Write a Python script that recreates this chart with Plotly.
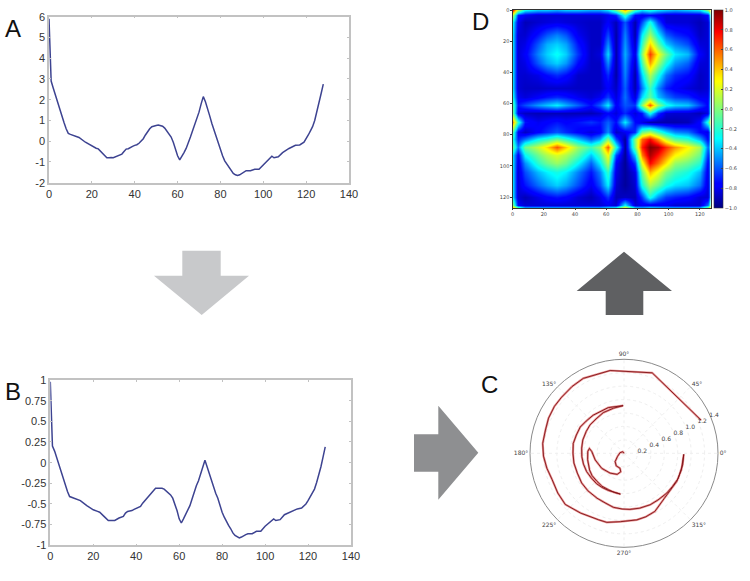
import plotly.graph_objects as go

# ---------- data ----------
series_x = [0,.5,1,2,3,4,5,6,7,8,9,10,11,12,14,17,20,22,23,25,26,27,28,29,30,32,33,34,35,36,37,38,39,40,41,42,43,44,45,46,47,48,49,50,51,52,53,54,55,56,57,58,59,60,61,62,63,64,65,66,67,68,69,70,71,72,73,74,75,76,77,78,79,80,81,82,83,84,85,86,87,88,89,90,91,92,94,96,98,100,102,104,105,107,109,112,115,117,119,120,121,122,123,124,125,126,127,128]
series_a = [5.9,4.2,2.9,2.55,2.2,1.9,1.55,1.2,.9,.6,.38,.33,.3,.27,.18,-.05,-.25,-.34,-.37,-.6,-.72,-.8,-.8,-.78,-.8,-.7,-.68,-.62,-.5,-.38,-.36,-.32,-.25,-.2,-.17,-.1,.02,.12,.3,.47,.6,.7,.75,.76,.78,.76,.72,.63,.5,.38,.2,-.05,-.4,-.7,-.9,-.75,-.55,-.35,-.1,.2,.5,.78,1.05,1.4,1.8,2.15,1.9,1.6,1.22,.85,.52,.2,-.1,-.4,-.7,-.95,-1.1,-1.25,-1.42,-1.55,-1.62,-1.65,-1.62,-1.55,-1.47,-1.42,-1.42,-1.35,-1.35,-1.15,-.9,-.72,-.8,-.75,-.55,-.35,-.2,-.18,-.05,.1,.3,.5,.7,1.0,1.4,1.85,2.3,2.75]
series_b = [.98,.55,.2,.14,.06,-.02,-.11,-.2,-.28,-.35,-.41,-.42,-.43,-.44,-.46,-.52,-.57,-.59,-.6,-.65,-.68,-.7,-.7,-.7,-.7,-.67,-.66,-.65,-.61,-.59,-.585,-.58,-.565,-.55,-.54,-.53,-.49,-.46,-.43,-.39,-.36,-.33,-.31,-.31,-.31,-.31,-.32,-.34,-.36,-.39,-.43,-.5,-.58,-.68,-.73,-.68,-.63,-.58,-.52,-.44,-.35,-.28,-.22,-.14,-.05,.03,-.05,-.13,-.21,-.3,-.37,-.43,-.52,-.6,-.66,-.72,-.76,-.8,-.85,-.88,-.9,-.91,-.9,-.88,-.87,-.86,-.86,-.83,-.83,-.77,-.72,-.68,-.7,-.69,-.63,-.59,-.56,-.55,-.5,-.46,-.41,-.37,-.32,-.24,-.15,-.05,.07,.19]
if not (len(series_x) == len(series_a) == len(series_b)):
    raise ValueError((len(series_x), len(series_a), len(series_b)))

x_ticks = [0,20,40,60,80,100,120,140]
a_ticks = [-2,-1,0,1,2,3,4,5,6]
a_labels = ["-2","-1","0","1","2","3","4","5","6"]
b_ticks = [-1,-0.75,-0.5,-0.25,0,0.25,0.5,0.75,1]
b_labels = ["-1","-0.75","-0.5","-0.25","0","0.25","0.5","0.75","1"]

polar_r = [0,.03,.06,.11,.18,.22,.23,.28,.33,.36,.40,.44,.48,.52,.54,.55,.57,.58,.58,.59,.59,.60,.61,.60,.605,.61,.61,.62,.625,.63,.635,.645,.65,.66,.66,.68,.69,.71,.72,.73,.74,.76,.76,.77,.76,.76,.755,.77,.775,.78,.79,.82,.83,.84,.85,.86,.86,.87,.875,.89,.89,.89,.89,.89,.90,.98,1.0,1.01,1.02,1.06,1.06,1.10,1.16,1.15,1.14,1.17,1.20,1.22,1.22,1.24,1.25,1.25,1.26,1.27,1.25,1.27,1.25]
polar_theta = [0,129,171,207,223,238,255,260,252,235,214,193,177,172,177,190,206,215,226,236,247,256,265,247,237,228,217,206,195,184.5,173,162,150,140,129,117,103,91,109,129,139.6,149,159,169,180,191,203,215,226,239,249,259,268,276,286,297,306,317,325.6,335,349,359,344,332,312,298,289,281,267,256,249,234,221,211,200,191,182,173,163.5,155,146,138,128,118.5,99.5,70.7,23.2]
if len(polar_r) != len(polar_theta):
    raise ValueError((len(polar_r), len(polar_theta)))
polar_r_ticks = [0.2,0.4,0.6,0.8,1.0,1.2,1.4]
polar_angle_ticks = [0,45,90,135,180,225,270,315]
polar_angle_labels = ["0°","45°","90°","135°","180°","225°","270°","315°"]

heat_grid = [0,3,8,16,22,28,34,42,50,56,61,66,72,78,83,88,93,98,104,112,120,125,127]
heat_z = [
[.75,.1,-.3,-.4,-.4,-.45,-.4,-.4,-.45,-.45,-.35,-.05,.45,-.15,-.35,-.25,-.35,-.4,-.45,-.4,-.35,0,.4],
[.1,-.7,-.8,-.85,-.85,-.85,-.85,-.85,-.85,-.85,-.8,-.7,-.2,-.75,-.8,-.75,-.8,-.85,-.85,-.85,-.85,-.75,-.1],
[-.3,-.8,-.9,-.86,-.84,-.82,-.84,-.86,-.88,-.88,-.78,-.9,-.6,-.92,-.62,-.25,-.62,-.84,-.85,-.85,-.9,-.85,-.35],
[-.35,-.85,-.86,-.72,-.6,-.52,-.6,-.8,-.88,-.88,-.62,-.93,-.52,-.92,-.32,.08,-.3,-.58,-.68,-.74,-.88,-.85,-.35],
[-.35,-.85,-.82,-.6,-.44,-.38,-.46,-.72,-.88,-.88,-.5,-.93,-.48,-.88,-.18,.38,-.05,-.38,-.52,-.62,-.84,-.85,-.35],
[-.35,-.85,-.78,-.52,-.38,-.28,-.38,-.66,-.88,-.84,-.36,-.93,-.44,-.82,0,.68,.28,-.05,-.33,-.42,-.78,-.85,-.35],
[-.35,-.85,-.82,-.6,-.46,-.38,-.48,-.74,-.88,-.88,-.5,-.93,-.48,-.88,-.15,.48,.1,-.24,-.48,-.58,-.84,-.85,-.35],
[-.35,-.85,-.86,-.82,-.74,-.68,-.74,-.87,-.88,-.88,-.68,-.93,-.52,-.93,-.38,.1,-.24,-.54,-.68,-.74,-.88,-.85,-.35],
[-.35,-.85,-.88,-.88,-.87,-.87,-.87,-.88,-.88,-.88,-.78,-.88,-.58,-.92,-.54,-.15,-.5,-.7,-.78,-.84,-.88,-.85,-.35],
[-.28,-.8,-.84,-.78,-.72,-.68,-.72,-.8,-.85,-.8,-.64,-.84,-.55,-.84,-.36,-.08,-.4,-.54,-.64,-.68,-.8,-.8,-.28],
[-.12,-.72,-.62,-.48,-.4,-.32,-.44,-.58,-.74,-.58,-.32,-.78,-.6,-.66,0,.62,.05,-.25,-.36,-.4,-.62,-.76,-.18],
[-.08,-.82,-.88,-.9,-.9,-.9,-.9,-.9,-.9,-.86,-.76,-.84,-.68,-.84,-.72,-.26,-.66,-.85,-.86,-.86,-.9,-.82,-.18],
[.5,-.2,-.72,-.8,-.76,-.72,-.76,-.72,-.66,-.72,-.58,-.74,-.32,-.74,-.82,-.92,-.92,-.92,-.92,-.9,-.76,-.2,.3],
[-.12,-.78,-.88,-.76,-.68,-.6,-.68,-.76,-.84,-.78,-.5,-.88,-.8,-.68,-.05,.1,-.15,-.35,-.5,-.55,-.75,-.82,-.28],
[-.25,-.7,-.55,-.3,-.2,-.05,-.2,-.4,-.6,-.45,.0,-.62,-.95,0,.58,.78,.5,.15,-.1,-.2,-.45,-.75,-.3],
[-.08,-.55,-.05,.15,.35,.62,.38,.05,-.15,.05,.62,-.22,-.96,-.05,.72,1,.92,.7,.5,.3,.08,-.58,-.18],
[-.35,-.78,-.3,-.05,.1,.2,.1,-.1,-.4,-.15,.28,-.62,-.96,-.4,.54,.92,.75,.54,.3,.15,-.05,-.68,-.35],
[-.35,-.82,-.5,-.2,-.05,.05,-.05,-.3,-.58,-.32,.1,-.78,-.96,-.66,.24,.78,.58,.34,.05,-.05,-.2,-.78,-.35],
[-.35,-.85,-.62,-.42,-.32,-.25,-.32,-.52,-.72,-.52,-.18,-.82,-.95,-.82,-.05,.44,.25,0,-.15,-.25,-.42,-.82,-.35],
[-.35,-.85,-.72,-.56,-.46,-.38,-.46,-.62,-.8,-.62,-.32,-.86,-.95,-.86,-.25,.1,-.05,-.25,-.35,-.4,-.55,-.84,-.35],
[-.35,-.85,-.9,-.82,-.76,-.72,-.76,-.85,-.9,-.82,-.66,-.9,-.88,-.9,-.65,-.25,-.5,-.65,-.7,-.75,-.85,-.85,-.35],
[0,-.78,-.85,-.85,-.85,-.85,-.85,-.85,-.85,-.85,-.8,-.85,-.3,-.85,-.8,-.8,-.8,-.8,-.85,-.85,-.85,-.56,0],
[.5,.05,-.35,-.35,-.35,-.35,-.35,-.35,-.35,-.35,-.25,-.15,.4,-.25,-.35,-.25,-.3,-.35,-.35,-.35,-.35,.1,.6],
]
heat_ticks = [0,20,40,60,80,100,120]
cbar_ticks = [-1,-0.8,-0.6,-0.4,-0.2,0,0.2,0.4,0.6,0.8,1]
cbar_labels = ["−1.0","−0.8","−0.6","−0.4","−0.2","0.0","0.2","0.4","0.6","0.8","1.0"]
panel_letters = ["A","B","C","D"]

# ---------- layout helpers ----------
W, H = 750, 581
fx = lambda p: p / W
fy = lambda p: 1 - p / H

jet = [[0,"#00007f"],[0.11,"#0000ff"],[0.125,"#0000ff"],[0.35,"#00ffff"],[0.375,"#13fce4"],
       [0.64,"#ffff00"],[0.66,"#fff200"],[0.89,"#ff0000"],[0.91,"#e40000"],[1,"#7f0000"]]

LINE = "#3d4391"
fig = go.Figure()
fig.add_trace(go.Scatter(x=series_x, y=series_a, mode="lines", line=dict(color=LINE, width=1.5),
                         xaxis="x", yaxis="y", showlegend=False))
fig.add_trace(go.Scatter(x=series_x, y=series_b, mode="lines", line=dict(color=LINE, width=1.5),
                         xaxis="x2", yaxis="y2", showlegend=False))
fig.add_trace(go.Heatmap(x=heat_grid, y=heat_grid, z=heat_z, zmin=-1, zmax=1, zsmooth="best",
                         colorscale=jet, xaxis="x3", yaxis="y3",
                         colorbar=dict(x=fx(714), xanchor="left", thickness=8.5, thicknessmode="pixels",
                                       y=fy(109), yanchor="middle", len=198, lenmode="pixels",
                                       tickvals=cbar_ticks, ticktext=cbar_labels, ticks="inside", ticklen=2,
                                       tickfont=dict(size=5, color="#444", family="DejaVu Sans"),
                                       outlinecolor="#333", outlinewidth=0.6, xpad=0, ypad=0)))
fig.add_trace(go.Scatterpolar(r=polar_r, theta=polar_theta, mode="lines",
                              line=dict(color="rgba(214,60,60,0.55)", width=2.2), showlegend=False))
fig.add_trace(go.Scatterpolar(r=polar_r, theta=polar_theta, mode="lines",
                              line=dict(color="#7f1216", width=0.9), showlegend=False))

def line_axis(domain, rng, ticks, labels=None):
    d = dict(domain=domain, range=rng, tickvals=ticks, showgrid=False, zeroline=False,
             showline=True, mirror="allticks", linecolor="#c2c2c2", linewidth=1.5,
             ticks="inside", ticklen=2, tickcolor="#c2c2c2",
             tickfont=dict(size=11, color="#333", family="Liberation Sans"))
    if labels is not None:
        d["ticktext"] = labels
    return d

def heat_axis(domain, rng, anchor):
    return dict(domain=domain, range=rng, tickvals=heat_ticks, showgrid=False, zeroline=False,
                showline=True, mirror=True, linecolor="#333", linewidth=0.6, anchor=anchor,
                ticks="outside", ticklen=1.5, tickcolor="#333",
                tickfont=dict(size=5, color="#444", family="DejaVu Sans"))

def arrow(points, color):
    path = "M " + " L ".join(f"{fx(x):.5f} {fy(y):.5f}" for x, y in points) + " Z"
    return dict(type="path", xref="paper", yref="paper", path=path, fillcolor=color, line=dict(width=0))

shapes = [
    arrow([(182.3,250.7),(220.7,250.7),(220.7,275.7),(249,275.7),(201.7,315),(154,275.7),(182.3,275.7)], "#c8c9cb"),
    arrow([(414,434.3),(438.3,434.3),(438.3,405.7),(478.3,452.7),(438.3,499.7),(438.3,471.7),(414,471.7)], "#8e8f91"),
    arrow([(605.7,315),(605.7,291),(576.7,291),(624,251.7),(672,291),(643.3,291),(643.3,315)], "#5f6062"),
]

letter_pos = [(12.5,28),(12.5,391),(489,384.5),(480,22)]
annotations = [dict(text=t, x=fx(x), y=fy(y), xref="paper", yref="paper", showarrow=False,
                    xanchor="center", yanchor="middle",
                    font=dict(size=24, color="#111", family="Liberation Sans"))
               for t, (x, y) in zip(panel_letters, letter_pos)]

fig.update_layout(
    width=W, height=H, autosize=False, margin=dict(l=0, r=0, t=0, b=0, autoexpand=False),
    paper_bgcolor="white", plot_bgcolor="white", showlegend=False,
    xaxis=line_axis([fx(49), fx(349)], [0,140], x_ticks) | dict(anchor="y"),
    yaxis=line_axis([fy(182.7), fy(16.7)], [-2,6], a_ticks, a_labels) | dict(anchor="x"),
    xaxis2=line_axis([fx(50.3), fx(351)], [0,140], x_ticks) | dict(anchor="y2"),
    yaxis2=line_axis([fy(545.3), fy(380)], [-1,1], b_ticks, b_labels) | dict(anchor="x2"),
    xaxis3=heat_axis([fx(512.7), fx(710.7)], [0,127], "y3"),
    yaxis3=heat_axis([fy(208), fy(10)], [127,0], "x3"),
    polar=dict(domain=dict(x=[fx(530), fx(718)], y=[fy(547.3), fy(359.3)]), bgcolor="white",
               radialaxis=dict(range=[0,1.4], angle=27, tickangle=27, tickvals=polar_r_ticks,
                               tickformat=".1f", showline=False, ticks="",
                               gridcolor="#efefef", griddash="dot", gridwidth=1,
                               tickfont=dict(size=6, color="#444", family="DejaVu Sans")),
               angularaxis=dict(tickvals=polar_angle_ticks, ticktext=polar_angle_labels, direction="counterclockwise",
                                rotation=0, linecolor="#8a8a8a", linewidth=1, ticks="", showline=True,
                                gridcolor="#efefef", griddash="dot", gridwidth=1,
                                tickfont=dict(size=6, color="#444", family="DejaVu Sans"))),
    shapes=shapes, annotations=annotations,
)
fig.write_html("out.html", post_script="document.body.style.margin='0';",
               config=dict(displayModeBar=False))
